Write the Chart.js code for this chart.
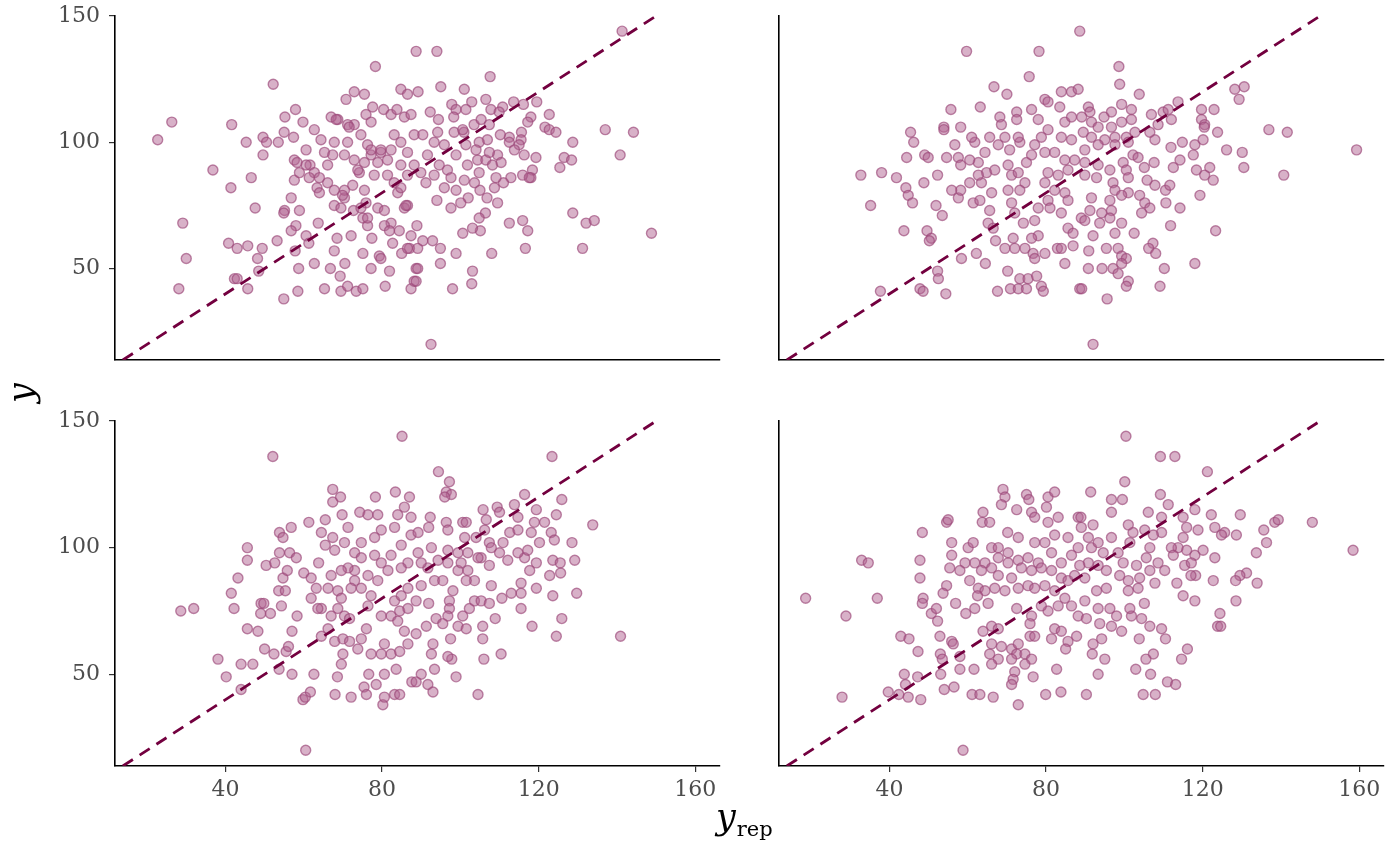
<!DOCTYPE html>
<html>
<head>
<meta charset="utf-8">
<script src="https://cdn.jsdelivr.net/npm/chart.js@4"></script>
<style>
  body { margin: 0; background: #fff; width: 1400px; height: 866px; position: relative; overflow: hidden; font-family: 'DejaVu Serif', serif; }
  .panel { position: absolute; }
  #ytitle { position: absolute; left: 1px; top: 368px; width: 40px; height: 50px; line-height: 50px; text-align: center; font-size: 35px; font-style: italic; transform: rotate(-90deg); color: #000; }
  #xtitle { position: absolute; left: 716px; top: 800px; line-height: 35px; font-size: 35px; color: #000; white-space: nowrap; }
  #xtitle i { font-style: italic; }
  #xtitle span { font-size: 21px; vertical-align: -7px; margin-left: 1px; }
</style>
</head>
<body>
<div class="panel" id="p1" style="left:0;top:0;width:730px;height:370px"><canvas id="chart1"></canvas></div>
<div class="panel" id="p2" style="left:769px;top:0;width:625px;height:370px"><canvas id="chart2"></canvas></div>
<div class="panel" id="p3" style="left:0;top:410px;width:730px;height:416px"><canvas id="chart3"></canvas></div>
<div class="panel" id="p4" style="left:769px;top:410px;width:625px;height:416px"><canvas id="chart4"></canvas></div>
<div id="ytitle">y</div>
<div id="xtitle"><i>y</i><span>rep</span></div>
<script>

const xTicks = [40, 80, 120, 160]
const yTicks = [50, 100, 150]
const diagonal = [13.8, 150.2]

// [y_rep, y]
const rep1 = [
  [22.7,101],[26.3,108],[52.2,123],[78.3,130],[88.7,136],[41.6,107],[45.3,100],[49.6,102],[49.6,95],[50.5,100],[53.5,100],[55,104],[55.2,110],[57.9,113],[57.4,102],[59.8,108],[36.8,89],[41.4,82],[46.6,86],[47.6,74],[29.1,68],[30,54],[28.1,42],[40.8,60],[43,58],[45.7,59],[49.4,58],[48.2,54],[48.5,49],[42.3,46],[43,46],[45.7,42],[53.2,61],[54.9,38],[58.5,41],[58.7,50],[58,67],[56.8,65],[57.8,57],[60.6,63],[61.3,60],[62.7,52],[63.7,68],[65.3,42],[66.8,50],[67.8,57],[68.5,62],[69.3,47],[69.5,41],[71.2,43],[72.1,63],[70.5,52],[73.4,41],[75.1,42],[75.1,56],[77.4,62],[77.2,50],[79.3,55],[79.7,54],[80.8,43],[81.9,49],[82.7,60],[85,56],[87,58],[87.4,42],[88.2,45],[88.7,50],
  [55.1,73],[54.9,72],[56.8,78],[58.9,73],[57.6,85],[57.6,93],[60.6,97],[58.9,88],[58.3,92],[61.6,91],[62.7,88],[63.4,82],[64,80],[66.1,84],[67.8,75],[69.5,74],[70.4,78],[72.7,73],[70.4,81],[72.5,83],[74.2,88],[75.5,81],[75.9,76],[75.1,70],[76.3,67],[78.9,74],[80.6,73],[82.3,68],[84.4,65],[85.7,74],[86.5,75],[84,80],[81.4,87],[78,87],[78.9,92],[79.7,96],[77.2,95],[76.3,99],[74.6,103],[72.9,107],[71.2,107],[68.7,109],[67,110],[70.8,117],[72.9,120],[75.5,119],[77.6,114],[80.4,113],[82.3,111],[83.8,113],[84.8,121],[86.5,119],[85.7,110],[87.4,111],[64.4,101],[62.7,105],[65.3,96],[67.4,95],[67.8,100],[70.4,95],[71.2,100],[72.9,93],[73.8,89],[75.5,92],[77.2,97],[79.7,97],[81.4,93],[82.3,97],[83.1,103],[84.8,100],[86.5,96],[84.8,91],[86.5,87],[88.2,91],[88.2,103],[83.1,84],[84.8,82],[86.1,75],[66.1,91],[64,86],[61.4,86],[60.6,91],[68.3,109],[71.6,106],[75.9,111],[77.2,108],[67.8,81],[69.9,79],[74.6,74],[76.3,70],[80.6,67],[81.9,65],[87.4,63],[86.5,58],
  [94,136],[141.3,144],[107.6,126],[95,122],[101,121],[89.2,120],[106.5,117],[102.9,116],[97.8,115],[98.9,113],[101.4,113],[92.3,112],[94.4,109],[98.3,110],[107.8,113],[110.8,114],[113.6,116],[116.1,115],[119.5,116],[109.9,112],[122.7,111],[118,110],[117.2,108],[121.6,106],[122.7,105],[124.4,104],[137,105],[144.2,104],[140.8,95],[128.7,100],[126.5,94],[128.4,93],[125.4,90],[115.6,104],[115.5,101],[112.5,102],[112.5,100],[110.2,103],[115,99],[116.3,95],[119.3,94],[118.4,89],[118,86],[115.9,87],[112.9,86],[111,84],[109.1,86],[108.7,82],[109.5,76],[106.8,78],[105,81],[106.4,72],[104.8,70],[105.1,65],[103.1,66],[100.6,64],[102,78],[100.1,76],[97.6,74],[94,77],[95.9,82],[98.9,81],[101,85],[103.6,84],[104.8,88],[101.8,91],[104.4,93],[106.5,93],[108.2,91],[109.5,95],[107.4,96],[106.9,101],[104.8,100],[104,97],[101.4,99],[98.9,95],[96.7,89],[97.6,86],[94.6,91],[93.3,87],[91.2,84],[89.9,88],[91.6,95],[93.3,100],[95.9,99],[90.4,103],[94.2,104],[98.4,104],[100.9,104],[103.5,107],[105.3,109],[107.4,107],[88.9,67],[89.1,58],[90.4,61],[92.9,61],[94.9,58],[94.9,52],[98.9,56],[108,56],[103.1,49],[102.9,44],[98,42],[89.1,50],[88.7,45],[112.5,68],[115.9,69],[117.2,65],[116.6,58],[128.7,72],[132.1,68],[134.2,69],[131.2,58],[148.8,64],[92.5,20],[100.6,105],[110.4,92],[113.8,97],[117.6,86]
]

const rep2 = [
  [59.7,136],[78.2,136],[88.6,144],[75.7,126],[66.7,122],[70,119],[55.7,113],[63.2,114],[53.9,106],[53.9,105],[58.2,106],[45.4,104],[46.2,100],[44.4,94],[49,95],[49.9,94],[54.6,94],[56.7,99],[57.6,94],[58.2,91],[32.7,87],[38,88],[41.8,86],[48.8,84],[52.3,87],[44.2,82],[44.8,79],[45.9,76],[35.2,75],[51.9,75],[53.5,71],[57.6,78],[58.2,81],[60.5,84],[61.4,76],[63.1,77],[43.7,65],[49.6,65],[50.7,62],[50.2,61],[58.4,54],[62.2,56],[64.5,52],[52.3,49],[52.5,46],[47.8,42],[48.6,41],[54.4,40],[37.7,41],[67.6,41],[70.9,42],[72.9,42],[75,42],[73.3,46],[75.4,46],[77.6,47],[78.8,43],[79.3,41],[70.2,49],[67.1,61],[69.5,58],[71.6,62],[72,58],[74.6,58],[76.7,56],[77.1,54],[79.7,56],[84.8,52],[82.9,58],[83.9,58],[86.9,59],[88.6,42],[65.2,68],[66.5,66],[65.6,73],[66.1,80],[63.5,84],[64.8,88],[62.7,92],[61.8,100],[61,102],[65.6,102],[67.8,99],[68.2,110],[68.6,107],[69.5,102],[70.7,97],[70.3,91],[71.2,87],[70.3,81],[71.2,76],[72,72],[74.2,68],[77.1,69],[78,74],[74.6,84],[73.3,81],[72.9,88],[75,92],[73.3,100],[72.9,102],[72.5,112],[72.5,109],[76.3,113],[78,109],[79.7,117],[80.5,116],[83.5,114],[83.9,120],[86.5,120],[88.2,121],[84.8,108],[86.5,110],[83.9,102],[86.5,101],[80.5,105],[78.8,102],[77.1,99],[76.3,95],[79.7,96],[82.2,96],[84.8,93],[87.3,93],[85.6,89],[83.1,87],[80.5,88],[79.7,84],[82.2,81],[84.8,80],[85.6,77],[80.5,77],[81,74],[83.9,72],[85.6,66],[86.9,64],[78,63],[76.3,62],[89,70],[64.4,96],[62.7,87],[66.9,89],[60.5,93],[55.9,81],
  [98.6,130],[98.8,123],[103.8,119],[113.7,116],[128.2,121],[130.6,122],[129.3,117],[119.7,113],[122.9,113],[119.7,109],[120.5,107],[120.4,106],[123.8,104],[136.9,105],[141.6,104],[159.3,97],[140.7,87],[126.1,97],[130.1,96],[130.5,90],[120.1,101],[118,99],[117.6,95],[114.8,100],[111.9,98],[112.5,90],[114.2,93],[118.4,89],[120.5,87],[121.8,90],[122.7,85],[119.3,79],[114.2,74],[110.6,76],[110.5,81],[111.6,83],[107.8,83],[105.8,85],[107.6,92],[105.1,90],[107.8,101],[106.5,104],[108.6,107],[106.9,111],[109.9,112],[112,109],[111.2,113],[101.8,113],[99.3,115],[96.7,112],[94.8,110],[90.8,114],[91.2,112],[89.1,110],[91.6,108],[93.3,106],[96.7,106],[99.3,108],[101.8,109],[102.7,104],[100.5,102],[97.6,102],[95,101],[91.6,102],[89.5,104],[89.9,97],[93.3,99],[97.6,99],[101,100],[102.2,95],[103.5,94],[99.7,92],[100.5,89],[101,86],[96.3,89],[93.3,91],[89.9,92],[89.9,87],[92.9,86],[97.1,84],[97.6,81],[101,80],[99.3,79],[91.6,78],[96.3,77],[103.9,79],[105.2,76],[106.5,74],[104.4,72],[96.7,73],[94.2,72],[91.2,73],[89.9,69],[93.7,68],[96.3,70],[99.3,68],[97.6,64],[102.5,64],[92,63],[111.8,67],[123.3,65],[107.3,60],[106.2,58],[108,56],[98.4,58],[95.4,58],[90.9,57],[99.3,55],[100.5,54],[99.3,52],[90.8,50],[94.3,50],[97.1,50],[98.4,48],[110.2,50],[118,52],[101,45],[100.5,43],[109.1,43],[89.1,42],[95.6,38],[92,20]
]

const rep3 = [
  [52.1,136],[85.1,144],[28.6,75],[31.9,76],[43.2,88],[45.6,100],[45.6,95],[41.5,82],[42.2,76],[45.6,68],[48.3,67],[38.1,56],[40.2,49],[44,54],[47,54],[44,44],[50,60],[52.4,58],[53.7,52],[55.5,59],[56.1,61],[57,50],[57,67],[58.3,73],[62.6,50],[59.8,40],[60.4,41],[61.7,43],[60.5,20],[68,42],[68.6,49],[72.1,41],[75.4,45],[76,42],[80.2,38],[80.6,41],[83.2,42],[84.5,42],[78.5,46],[76.6,50],[80.6,50],[83.6,52],[87.6,47],[49.1,78],[49.8,78],[49,74],[51.5,74],[54.3,77],[53.6,83],[55.3,83],[54.7,88],[55.8,91],[50.4,93],[52.6,94],[53.8,98],[56.4,98],[58.1,96],[53.8,106],[54.7,104],[56.8,108],[61.3,110],[60,90],[61.9,88],[63.2,84],[61.9,80],[63.8,94],[64.5,106],[65.5,111],[65.5,101],[67.4,123],[67.4,118],[69.4,120],[69.8,113],[67.9,99],[67.4,104],[70.4,102],[71.3,108],[74.3,114],[76.4,113],[78.9,113],[78.3,120],[83.4,122],[87,120],[85.7,116],[84,113],[83.2,108],[79.8,107],[78.1,104],[74.7,102],[73,98],[74.7,96],[78.1,97],[79.8,94],[82.3,97],[84.9,101],[87.4,112],[87.4,105],[86.6,94],[84.9,92],[81.5,91],[78.9,87],[76.4,89],[73,91],[71.3,92],[69.6,91],[67,89],[66.2,84],[68.7,83],[69.6,80],[68.7,76],[70.4,73],[71.7,72],[67,73],[64.5,76],[66.2,68],[64.5,65],[67.9,63],[70,64],[71.7,63],[74.7,64],[76,68],[73.8,60],[70,58],[69.6,54],[77.2,58],[79.8,58],[82.3,58],[84.5,59],[86.6,62],[80.6,62],[79.8,73],[82.3,73],[84.5,75],[86.6,76],[83.2,79],[84.9,81],[86.6,84],[77.2,81],[76.4,77],[74.7,84],[73,87],[84,71],[85.7,67],[72.1,84],[63.6,76],
  [123.4,136],[94.4,130],[97.2,126],[96.4,122],[97.7,121],[96,120],[116.4,121],[125.9,119],[105.8,115],[109.4,116],[113.8,117],[119.4,115],[124.5,113],[133.8,109],[106.6,111],[110,114],[114.7,112],[118.9,110],[121.5,110],[92.3,112],[96.4,110],[100.6,110],[101.5,110],[91.9,108],[89.2,106],[96.8,107],[101.1,104],[104,104],[106.2,107],[107.4,102],[110.9,102],[112.6,106],[114.7,107],[118.1,106],[120.2,102],[123.2,106],[124,103],[128.5,102],[129.2,95],[123.6,95],[125.5,94],[125.6,90],[122.8,89],[129.7,82],[123.6,81],[119.4,84],[115.5,82],[115.5,86],[113,82],[110.6,80],[117.7,91],[119.4,94],[116.4,96],[117.2,99],[114.7,98],[112.1,95],[110,98],[107.9,100],[105.3,96],[107.4,93],[107.9,85],[103.6,87],[101.5,87],[101.9,91],[99.4,91],[100.2,94],[96.8,94],[94.3,95],[91.7,92],[90,94],[89.2,98],[92.6,100],[96.8,99],[99.4,98],[101.9,98],[104.5,96],[93.4,87],[95.5,87],[98.1,83],[90,85],[88.7,79],[91.9,78],[97.2,79],[97.2,76],[96.8,73],[102.3,76],[103.6,79],[105.3,79],[107.4,78],[100.6,73],[93.8,72],[95.5,70],[99.4,69],[101.5,68],[105.7,69],[108.9,72],[115.5,76],[118.3,69],[125.9,72],[124.5,65],[140.9,65],[91.3,69],[88.7,66],[97.5,64],[105.7,64],[110.4,58],[106,56],[97.8,56],[96.8,57],[93,62],[92.6,58],[90,50],[93.4,52],[98.9,49],[91.7,46],[93,43],[104.5,42],[88.7,47]
]

const rep4 = [
  [18.6,80],[27.9,41],[28.9,73],[32.9,95],[34.6,94],[36.9,80],[39.7,43],[42.4,42],[44.8,41],[43.8,50],[44.1,46],[47.2,49],[48,40],[42.9,65],[45,64],[47.3,59],[48.4,106],[47.8,95],[47.8,88],[48.6,80],[48.4,78],[50.7,74],[52,76],[52.3,71],[52.9,65],[53,58],[53.5,56],[53.1,50],[54,44],[56.5,45],[55.9,63],[56.3,62],[58,57],[58,52],[61.6,52],[61.1,42],[63.1,42],[66.5,41],[72.9,38],[79.9,42],[83.8,43],[58.8,20],[54.6,110],[55,111],[55.9,102],[55.9,97],[55.4,92],[54.6,85],[53.7,82],[56.9,78],[59.5,74],[61.8,76],[60.5,87],[60.1,100],[61.4,102],[63.9,114],[63.7,110],[65.6,110],[69,123],[69.5,120],[68.6,117],[72.5,115],[75,121],[75.6,119],[80.5,120],[82.2,122],[80.1,116],[76.3,114],[83.1,112],[77.1,112],[80.5,110],[70.2,106],[66.1,100],[67.8,100],[70.3,98],[72.9,104],[77.1,102],[79.7,102],[82.2,105],[85.6,104],[88.2,112],[88.2,100],[86.5,97],[83.9,94],[81.4,98],[78,94],[75.4,96],[72.9,95],[70.3,94],[67.8,96],[64.4,94],[61.8,94],[59.3,94],[58,91],[63.5,91],[66.1,92],[67.8,89],[71.2,88],[73.7,92],[76.3,91],[78.8,92],[81.4,91],[83.9,88],[85.6,87],[87.3,89],[62.7,84],[64.4,83],[66.9,84],[69.5,83],[72.9,84],[75.4,85],[77.1,84],[79.7,85],[82.2,83],[84.8,80],[86.5,77],[88.2,73],[83.1,77],[80.5,75],[78.8,77],[76.3,73],[75.9,70],[72.5,76],[65.2,78],[66.1,69],[67.8,68],[63.9,67],[66.1,62],[65.6,58],[67.8,56],[66.1,54],[68.6,61],[71.2,60],[72.9,62],[72.5,58],[71.2,56],[74.6,58],[76.3,56],[74.6,54],[72,51],[71.6,48],[71.2,46],[76.7,49],[75.9,65],[77.1,65],[81.4,64],[82.2,68],[83.9,67],[85.6,63],[85,60],[87.8,65],[82.7,52],[62.5,81],
  [100.4,144],[109.2,136],[112.9,136],[121.2,130],[100.1,126],[91.4,122],[96.7,119],[99.5,119],[109.2,121],[111.2,117],[106.1,114],[96.7,114],[109.5,112],[115,112],[118,115],[122.2,113],[129.6,113],[148,110],[138.4,110],[139.3,111],[135.6,107],[136.3,102],[133.7,98],[158.4,99],[133.9,86],[131.2,90],[129.5,89],[128.4,87],[128.5,79],[128.6,105],[125.6,106],[124.8,105],[123.1,108],[118.8,107],[115.9,108],[115,104],[123.1,96],[122.7,87],[120.1,99],[118,97],[115.9,99],[113.7,100],[112,100],[112.5,97],[115.4,93],[117.1,94],[118.2,89],[117,89],[113.4,86],[115,81],[118,79],[124.4,74],[123.8,69],[124.6,69],[116.1,60],[114.6,56],[110.5,64],[109.5,68],[106.5,69],[103.8,64],[107.4,58],[105.5,56],[102.9,52],[106.7,50],[111,47],[113.1,46],[104.8,42],[107.9,42],[90.3,42],[93.3,50],[95,56],[91.8,58],[92,62],[94.2,64],[99.3,67],[96.7,69],[93.7,70],[98,73],[101.8,73],[104.4,72],[105.1,78],[101.4,76],[96.3,76],[93.3,76],[90.3,72],[89.9,79],[92.9,83],[95.4,84],[101,83],[103.5,84],[107.8,86],[106.5,91],[103.9,88],[101,87],[98.8,89],[95.4,91],[93.3,93],[90.8,94],[89.9,88],[88.6,93],[91.6,100],[94.6,98],[98.4,98],[99.7,94],[103.1,93],[105.6,96],[108.6,94],[110.3,91],[106.5,100],[109.5,106],[107.4,105],[105.2,107],[102.2,106],[101.4,102],[101,109],[96.7,104],[93.3,102],[90.8,104],[89,108],[92,109],[88.9,112]
]

const colors = {
  fill: 'rgba(178, 100, 145, 0.5)',
  edge: 'rgba(155, 70, 120, 0.65)',
  line: '#73003f',
  text: '#4d4d4d'
}

const tickFont = { family: 'DejaVu Serif', size: 22 }

const printPanel = (id, points, { showX, showY, yWidth, xHeight, padTop }) => {

  const data = {
    datasets: [
      {
        type: 'line',
        data: diagonal.map(v => ({ x: v, y: v })),
        borderColor: colors.line,
        borderWidth: 2.8,
        borderDash: [12, 8],
        pointRadius: 0,
        order: 0
      },
      {
        data: points.map(([x, y]) => ({ x, y })),
        backgroundColor: colors.fill,
        borderColor: colors.edge,
        borderWidth: 1.4,
        pointRadius: 5,
        order: 1
      }
    ]
  }

  const options = {
    responsive: true,
    maintainAspectRatio: false,
    animation: false,
    events: [],
    layout: { padding: { top: padTop, right: 10, left: 0, bottom: 0 } },
    plugins: {
      legend: { display: false },
      tooltip: { enabled: false }
    },
    scales: {
      x: {
        type: 'linear',
        min: 11.8,
        max: 166.3,
        afterBuildTicks: s => { s.ticks = xTicks.map(value => ({ value })) },
        afterFit: s => { s.height = xHeight; s.paddingLeft = 0; s.paddingRight = 0 },
        grid: { display: showX, drawOnChartArea: false, drawTicks: true, tickLength: 6, color: '#333', lineWidth: 1.2 },
        border: { display: true, color: '#000', width: 1.6 },
        ticks: { display: showX, font: tickFont, color: colors.text, padding: 5, maxRotation: 0, autoSkip: false }
      },
      y: {
        type: 'linear',
        min: 13.8,
        max: 150.2,
        afterBuildTicks: s => { s.ticks = yTicks.map(value => ({ value })) },
        afterFit: s => { s.width = yWidth; s.paddingTop = 0; s.paddingBottom = 0 },
        grid: { display: showY, drawOnChartArea: false, drawTicks: true, tickLength: 6, color: '#333', lineWidth: 1.2 },
        border: { display: true, color: '#000', width: 1.6 },
        ticks: { display: showY, font: tickFont, color: colors.text, padding: 9, autoSkip: false }
      }
    }
  }

  new Chart(id, {
    type: 'scatter',
    data,
    options
  })

}

printPanel('chart1', rep1, { showX: false, showY: true, yWidth: 115, xHeight: 10, padTop: 15.5 })
printPanel('chart2', rep2, { showX: false, showY: false, yWidth: 10, xHeight: 10, padTop: 15.5 })
printPanel('chart3', rep3, { showX: true, showY: true, yWidth: 115, xHeight: 60, padTop: 10.5 })
printPanel('chart4', rep4, { showX: true, showY: false, yWidth: 10, xHeight: 60, padTop: 10.5 })

</script>
</body>
</html>
